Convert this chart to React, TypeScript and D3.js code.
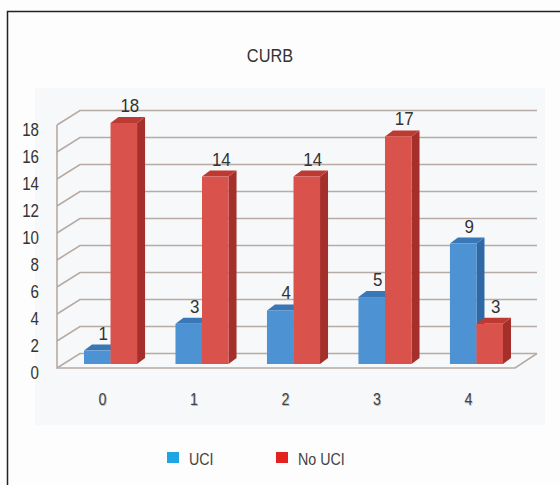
import React, { useEffect, useRef } from "react";
import * as d3 from "d3";

const categories = ["0", "1", "2", "3", "4"];
const series = ["UCI", "No UCI"];
const uci = [1, 3, 4, 5, 9];
const noUci = [18, 14, 14, 17, 3];
const yTicks = [0, 2, 4, 6, 8, 10, 12, 14, 16, 18];

const faces = {
  UCI: { front: "#4d92d2", top: "#3a77b6", side: "#2f68a6", legend: "#1ea6e2" },
  "No UCI": { front: "#da524c", top: "#bd3a33", side: "#a5302b", legend: "#e3211f" },
};

const font = "'Liberation Sans', Arial, sans-serif";

// narrow text: the original uses a condensed face, so squeeze horizontally
function label(
  sel: d3.Selection<any, any, any, any>,
  x: number,
  y: number,
  txt: string | number,
  size: number,
  anchor = "middle",
  fill = "#333",
  sx = 0.84
) {
  return sel
    .append("text")
    .attr("transform", `translate(${x},${y}) scale(${sx},1)`)
    .attr("text-anchor", anchor)
    .style("font-family", font)
    .style("font-size", `${size}px`)
    .attr("fill", fill)
    .text(txt);
}

export default function App() {
  const ref = useRef<SVGSVGElement>(null);

  useEffect(() => {
    const svg = d3.select(ref.current);
    svg.selectAll("*").remove();

    // background + frame (left and top edges only)
    svg.append("rect").attr("width", 560).attr("height", 485).attr("fill", "#fdfdfd");
    svg.append("rect").attr("x", 35).attr("y", 88).attr("width", 510).attr("height", 337).attr("fill", "#f7f8f9");
    svg
      .append("path")
      .attr("d", "M7.5,485 V11.5 H560")
      .attr("fill", "none")
      .attr("stroke", "#222")
      .attr("stroke-width", 1.5);

    label(svg, 270, 62, "CURB", 19, "middle", "#333", 0.86);

    // 3D wall
    const depthX = 23,
      depthY = -14.5;
    const left = 57,
      right = 515;
    const yGrid = d3.scaleLinear().domain([0, 18]).range([368, 125]);

    const grid = svg.append("g");
    yTicks.forEach((t) => {
      const fy = yGrid(t);
      grid
        .append("path")
        .attr("d", `M${left},${fy} L${left + depthX},${fy + depthY} H${right + depthX - 1}`)
        .attr("fill", "none")
        .attr("stroke", "#b7aba5")
        .attr("stroke-width", 1.6);
    });
    grid
      .append("path")
      .attr("d", `M${left},${yGrid(18)} V${yGrid(0)} H${right} L${right + depthX - 1},${yGrid(0) + depthY}`)
      .attr("fill", "none")
      .attr("stroke", "#b7aba5")
      .attr("stroke-width", 1.6);

    const yAxis = svg.append("g");
    yTicks.forEach((t) => label(yAxis, 39, yGrid(t) + 11, t, 18, "end"));

    // bars
    const x = d3
      .scaleBand()
      .domain(categories)
      .range([84, 503])
      .paddingInner(0.42)
      .paddingOuter(0);
    const xs = d3.scaleBand().domain(series).range([0, x.bandwidth()]);
    const yBar = d3.scaleLinear().domain([0, 18]).range([364, 123]);
    const bx = 8,
      by = -6;

    const rows = categories.flatMap((c, i) => [
      { c, s: "UCI", v: uci[i] },
      { c, s: "No UCI", v: noUci[i] },
    ]);

    const bars = svg.append("g");
    rows.forEach((d) => {
      const x0 = (x(d.c) as number) + (xs(d.s) as number);
      const w = xs.bandwidth();
      const y0 = yBar(0);
      const y1 = yBar(d.v);
      const f = faces[d.s as "UCI" | "No UCI"];
      const g = bars.append("g");
      g.append("path")
        .attr("d", `M${x0 + w},${y0} L${x0 + w + bx},${y0 + by} V${y1 + by} L${x0 + w},${y1} Z`)
        .attr("fill", f.side);
      g.append("path")
        .attr("d", `M${x0},${y1} L${x0 + bx},${y1 + by} H${x0 + w + bx} L${x0 + w},${y1} Z`)
        .attr("fill", f.top);
      g.append("rect")
        .attr("x", x0)
        .attr("y", y1)
        .attr("width", w)
        .attr("height", y0 - y1)
        .attr("fill", f.front);
      label(g, x0 + w / 2 + 6, y1 - 11, d.v, 18, "middle", "#333", 0.94);
    });

    // category labels (grey, slightly embossed)
    const xAxis = svg.append("g");
    categories.forEach((c) => {
      const cx = (x(c) as number) + xs.bandwidth() - 8;
      label(xAxis, cx + 0.6, 405.6, c, 17, "middle", "#bbb");
      label(xAxis, cx, 405, c, 17, "middle", "#444");
    });

    // legend
    const legend = svg.append("g");
    const lx = [167, 276];
    series.forEach((s, i) => {
      legend
        .append("rect")
        .attr("x", lx[i])
        .attr("y", 452)
        .attr("width", 12)
        .attr("height", 11)
        .attr("fill", faces[s as "UCI" | "No UCI"].legend);
      label(legend, lx[i] + 22, 465, s, 17, "start", "#444");
    });
  }, []);

  return (
    <svg
      ref={ref}
      width={560}
      height={485}
      style={{ position: "absolute", left: 0, top: 0 }}
    />
  );
}
